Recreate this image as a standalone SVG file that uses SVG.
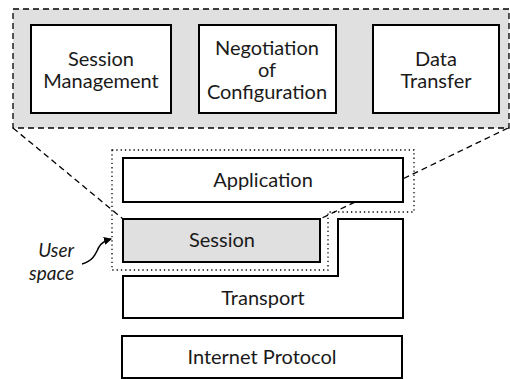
<svg xmlns="http://www.w3.org/2000/svg" width="510" height="379" viewBox="0 0 510 379">
<style>
text{font-family:Lato,"Open Sans","Liberation Sans",sans-serif;font-size:20px;fill:#1a1a1a;text-anchor:middle}
.box{fill:#fff;stroke:#000;stroke-width:2}
.dash{fill:none;stroke:#000;stroke-width:1.3;stroke-dasharray:6,4}
.dot{fill:none;stroke:#000;stroke-width:1.3;stroke-dasharray:1.3,3}
.note{font-style:italic;text-anchor:end;font-size:19px}
</style>
<defs>
<marker id="ah" markerWidth="8" markerHeight="8" refX="7" refY="4" orient="auto" markerUnits="userSpaceOnUse">
<path d="M0,0 L8,4 L0,8 Z" fill="#000"/>
</marker>
</defs>
<g id="connectors">
<path class="dash" d="M13,128 L123,219"/>
<path class="dash" d="M508,128 L320,219"/>
<path d="M82,264 C95,260 96,252 99,247 C101,243 104,241 111,239" fill="none" stroke="#000" stroke-width="1.5" marker-end="url(#ah)"/>
</g>
<g id="detail">
<rect x="13" y="9" width="496" height="119" fill="#e0e0e0" stroke="#000" stroke-width="1.3" stroke-dasharray="6,4"/>
</g>
<g id="session-management">
<rect class="box" x="31" y="25" width="140" height="88"/>
<text x="101" y="66">Session</text>
<text x="101" y="88">Management</text>
</g>
<g id="negotiation">
<rect class="box" x="199" y="25" width="137" height="88"/>
<text x="267" y="55">Negotiation</text>
<text x="267" y="77">of</text>
<text x="267" y="99">Configuration</text>
</g>
<g id="data-transfer">
<rect class="box" x="373" y="25" width="126" height="88"/>
<text x="436" y="66">Data</text>
<text x="436" y="88">Transfer</text>
</g>
<g id="application">
<rect class="box" x="123" y="158" width="280" height="44"/>
<text x="263" y="187">Application</text>
</g>
<g id="session">
<rect x="123" y="219" width="197" height="43" fill="#e0e0e0" stroke="#000" stroke-width="2"/>
<text x="222" y="247">Session</text>
</g>
<g id="transport">
<path class="box" d="M123,276 L338,276 L338,219 L403,219 L403,318 L123,318 Z"/>
<text x="263" y="305">Transport</text>
</g>
<g id="internet-protocol">
<rect class="box" x="122" y="336" width="280" height="42"/>
<text x="262" y="364">Internet Protocol</text>
</g>
<g id="user-space">
<path class="dot" d="M112,150 L414,150 L414,212 L328,212 L328,270 L112,270 Z"/>
<text class="note" x="74" y="257">User</text>
<text class="note" x="74" y="280">space</text>
</g>
</svg>
